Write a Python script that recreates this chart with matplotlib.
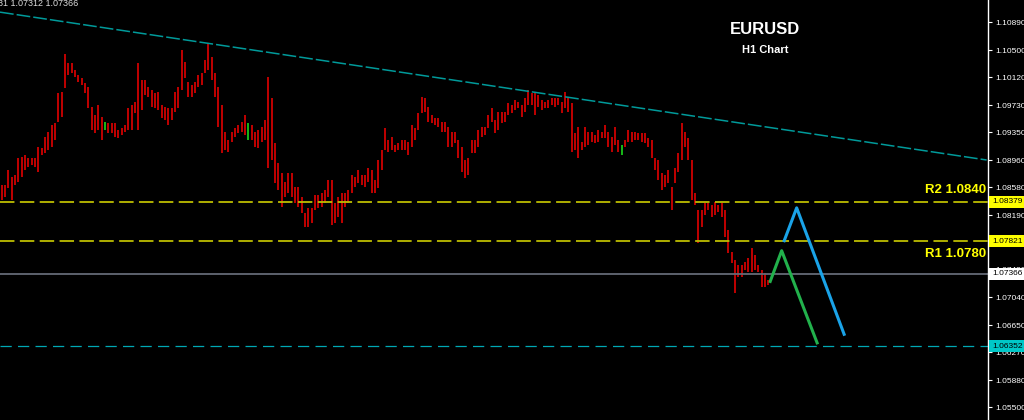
import numpy as np
import matplotlib
matplotlib.use("Agg")
import matplotlib.pyplot as plt
import matplotlib.transforms as mtransforms

plt.rcParams["font.family"] = ["Liberation Sans", "DejaVu Sans"]

# H1 bars (high / low)
highs = [
    1.0861, 1.0861, 1.0882, 1.0872, 1.0875, 1.0899, 1.0900, 1.0903, 1.0899, 1.0899,
    1.0899, 1.0914, 1.0913, 1.0928, 1.0935, 1.0945, 1.0948, 1.0990, 1.0991, 1.1044,
    1.1032, 1.1032, 1.1022, 1.1015, 1.1011, 1.1004, 1.0998, 1.0970, 1.0959, 1.0973,
    1.0956, 1.0949, 1.0948, 1.0948, 1.0948, 1.0938, 1.0941, 1.0945, 1.0969, 1.0973,
    1.0977, 1.1032, 1.1008, 1.1008, 1.0998, 1.0994, 1.0990, 1.0991, 1.0973, 1.0970,
    1.0969, 1.0969, 1.0991, 1.0998, 1.1050, 1.1033, 1.1005, 1.1001, 1.1005, 1.1015,
    1.1018, 1.1036, 1.1060, 1.1040, 1.1018, 1.0998, 1.0973, 1.0935, 1.0924, 1.0935,
    1.0941, 1.0945, 1.0949, 1.0959, 1.0948, 1.0945, 1.0935, 1.0938, 1.0942, 1.0952,
    1.1012, 1.0983, 1.0920, 1.0892, 1.0878, 1.0865, 1.0878, 1.0878, 1.0858, 1.0858,
    1.0844, 1.0822, 1.0829, 1.0829, 1.0847, 1.0847, 1.0850, 1.0854, 1.0868, 1.0868,
    1.0836, 1.0844, 1.0850, 1.0850, 1.0854, 1.0875, 1.0872, 1.0882, 1.0875, 1.0875,
    1.0885, 1.0882, 1.0868, 1.0896, 1.0910, 1.0941, 1.0924, 1.0928, 1.0917, 1.0920,
    1.0924, 1.0924, 1.0921, 1.0945, 1.0941, 1.0962, 1.0984, 1.0983, 1.0970, 1.0959,
    1.0955, 1.0955, 1.0949, 1.0949, 1.0942, 1.0935, 1.0935, 1.0924, 1.0914, 1.0896,
    1.0899, 1.0924, 1.0924, 1.0938, 1.0942, 1.0942, 1.0959, 1.0969, 1.0952, 1.0963,
    1.0963, 1.0963, 1.0976, 1.0973, 1.0980, 1.0977, 1.0973, 1.0983, 1.0994, 1.0990,
    1.0990, 1.0987, 1.0980, 1.0977, 1.0980, 1.0983, 1.0983, 1.0983, 1.0977, 1.0991,
    1.0983, 1.0976, 1.0934, 1.0942, 1.0921, 1.0942, 1.0935, 1.0935, 1.0931, 1.0938,
    1.0935, 1.0945, 1.0935, 1.0928, 1.0942, 1.0924, 1.0917, 1.0924, 1.0938, 1.0935,
    1.0935, 1.0934, 1.0934, 1.0934, 1.0927, 1.0924, 1.0899, 1.0896, 1.0878, 1.0875,
    1.0882, 1.0858, 1.0885, 1.0906, 1.0948, 1.0935, 1.0927, 1.0896, 1.0850, 1.0826,
    1.0826, 1.0836, 1.0836, 1.0833, 1.0837, 1.0833, 1.0836, 1.0826, 1.0798, 1.0767,
    1.0756, 1.0749, 1.0749, 1.0753, 1.0759, 1.0773, 1.0763, 1.0749, 1.0742, 1.0738,
    1.0728,
]
lows = [
    1.0840, 1.0844, 1.0857, 1.0840, 1.0861, 1.0865, 1.0872, 1.0882, 1.0886, 1.0889,
    1.0886, 1.0879, 1.0903, 1.0906, 1.0910, 1.0914, 1.0924, 1.0949, 1.0956, 1.0997,
    1.1015, 1.1018, 1.1012, 1.1005, 1.1001, 1.0990, 1.0969, 1.0938, 1.0934, 1.0938,
    1.0924, 1.0938, 1.0934, 1.0934, 1.0928, 1.0927, 1.0931, 1.0935, 1.0938, 1.0938,
    1.0962, 1.0938, 1.0966, 1.0987, 1.0984, 1.0970, 1.0969, 1.0966, 1.0955, 1.0952,
    1.0945, 1.0952, 1.0963, 1.0969, 1.0994, 1.1011, 1.0984, 1.0984, 1.0990, 1.0998,
    1.1001, 1.1018, 1.1022, 1.1008, 1.0984, 1.0942, 1.0906, 1.0910, 1.0907, 1.0921,
    1.0928, 1.0934, 1.0935, 1.0931, 1.0924, 1.0924, 1.0914, 1.0913, 1.0921, 1.0924,
    1.0885, 1.0896, 1.0864, 1.0854, 1.0830, 1.0844, 1.0850, 1.0844, 1.0836, 1.0830,
    1.0822, 1.0802, 1.0802, 1.0808, 1.0826, 1.0829, 1.0830, 1.0836, 1.0844, 1.0805,
    1.0808, 1.0816, 1.0808, 1.0830, 1.0836, 1.0850, 1.0858, 1.0864, 1.0861, 1.0858,
    1.0865, 1.0850, 1.0850, 1.0857, 1.0882, 1.0910, 1.0907, 1.0910, 1.0907, 1.0910,
    1.0910, 1.0910, 1.0903, 1.0914, 1.0924, 1.0938, 1.0962, 1.0963, 1.0949, 1.0948,
    1.0945, 1.0942, 1.0935, 1.0935, 1.0914, 1.0914, 1.0920, 1.0899, 1.0879, 1.0871,
    1.0875, 1.0906, 1.0906, 1.0914, 1.0928, 1.0931, 1.0941, 1.0949, 1.0934, 1.0938,
    1.0948, 1.0949, 1.0959, 1.0962, 1.0966, 1.0969, 1.0956, 1.0963, 1.0973, 1.0973,
    1.0959, 1.0970, 1.0966, 1.0969, 1.0969, 1.0973, 1.0970, 1.0973, 1.0962, 1.0969,
    1.0963, 1.0907, 1.0910, 1.0899, 1.0910, 1.0914, 1.0917, 1.0921, 1.0920, 1.0921,
    1.0927, 1.0927, 1.0914, 1.0907, 1.0917, 1.0907, 1.0903, 1.0914, 1.0921, 1.0921,
    1.0924, 1.0924, 1.0921, 1.0920, 1.0914, 1.0899, 1.0882, 1.0868, 1.0854, 1.0858,
    1.0864, 1.0826, 1.0864, 1.0879, 1.0896, 1.0914, 1.0896, 1.0840, 1.0833, 1.0780,
    1.0802, 1.0819, 1.0826, 1.0816, 1.0819, 1.0823, 1.0816, 1.0788, 1.0766, 1.0752,
    1.0710, 1.0732, 1.0732, 1.0742, 1.0739, 1.0739, 1.0742, 1.0739, 1.0718, 1.0718,
    1.0721,
]
green_bars = [31, 74, 186]

# levels
r2 = 1.08379
r1 = 1.07821
last_price = 1.07366
target = 1.06352
trend_x = [-0.5, 295.5]
trend_y = [1.1103, 1.0896]

# projected paths (bar index, price)
green_path_x = [230.4, 234.0, 244.8]
green_path_y = [1.0724, 1.0769, 1.0638]
blue_path_x = [234.6, 238.5, 252.9]
blue_path_y = [1.0781, 1.0829, 1.0650]

ticks = [1.10890, 1.10500, 1.10120, 1.09730, 1.09350, 1.08960, 1.08580,
         1.08190, 1.07430, 1.07040, 1.06650, 1.06270, 1.05880, 1.05500]

fig = plt.figure(figsize=(10.24, 4.2), dpi=100, facecolor="black")
ax = fig.add_axes([0, 0, 988 / 1024, 1], facecolor="black")

idx = np.arange(len(highs))
colors = ["#19C819" if i in green_bars else "#D00000" for i in idx]
ax.vlines(idx, lows, highs, colors=colors, linewidth=1.3)

ax.plot(trend_x, trend_y, color="#009A9A", lw=1.1, dashes=(9, 2))
ax.axhline(r2, color="#BDBD00", lw=1.3, dashes=(8, 3))
ax.axhline(r1, color="#BDBD00", lw=1.3, dashes=(8, 3))
ax.axhline(last_price, color="#646a76", lw=1.3)
ax.axhline(target, color="#00A8B4", lw=0.9, dashes=(9, 5))

ax.plot(green_path_x, green_path_y, color="#22B14C", lw=2.2, solid_capstyle="butt")
ax.plot(blue_path_x, blue_path_y, color="#1AA3E8", lw=2.2, solid_capstyle="butt")

ax.set_xlim(-0.5, 295.9)
ax.set_ylim(1.0532, 1.1120)

# right price scale
ax.yaxis.tick_right()
ax.set_yticks(ticks)
ax.set_yticklabels(["%.5f" % t for t in ticks])
ax.tick_params(axis="y", colors="white", labelsize=6, length=3, width=0.8, pad=2)
ax.set_xticks([])
for s in ["top", "left", "bottom"]:
    ax.spines[s].set_visible(False)
ax.spines["right"].set_color("white")
ax.spines["right"].set_linewidth(1)

trans = mtransforms.blended_transform_factory(ax.transAxes, ax.transData)
tags = [(r2, "#FFFF00"), (r1, "#FFFF00"), (last_price, "white"), (target, "#00C8C8")]
for val, bg in tags:
    ax.text(1.004, val, "%.5f" % val, transform=trans, fontsize=6, color="black",
            va="center", ha="left", clip_on=False, zorder=5,
            bbox=dict(boxstyle="square,pad=0.3", fc=bg, ec="none"))

fig.text(765 / 1024, 1 - 30 / 420, "EURUSD", color="white", fontsize=12,
         fontweight="bold", ha="center", va="center")
fig.text(765 / 1024, 1 - 50 / 420, "H1 Chart", color="white", fontsize=8,
         fontweight="bold", ha="center", va="center")
ax.text(0.998, 1.0854, "R2 1.0840", transform=trans, color="#FFFF00", fontsize=9.5,
        fontweight="bold", ha="right", va="center")
ax.text(0.998, 1.0765, "R1 1.0780", transform=trans, color="#FFFF00", fontsize=9.5,
        fontweight="bold", ha="right", va="center")
fig.text(-0.002, 1 - 4 / 420, "31 1.07312 1.07366", color="#DDDDDD", fontsize=6.5,
         ha="left", va="center")

fig.savefig("out.png", dpi=100, facecolor="black")
